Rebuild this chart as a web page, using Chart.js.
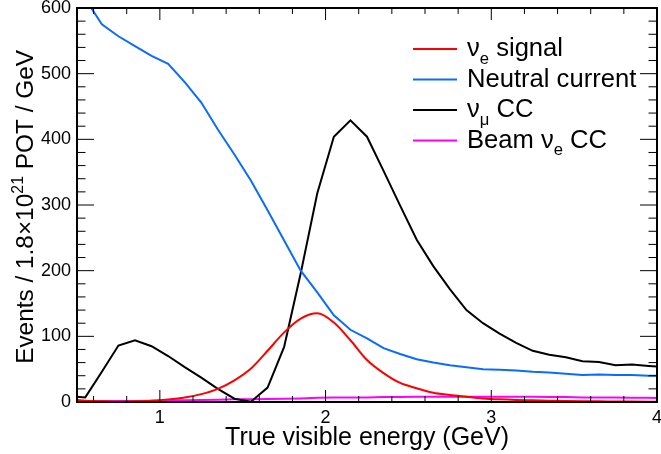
<!DOCTYPE html>
<html lang="en">
<head>
<meta charset="UTF-8">
<title>True visible energy</title>
<style>
    html, body { margin: 0; padding: 0; background: #fff; }
    #wrap { width: 661px; height: 454px; }
</style>
</head>
<body>
<div id="wrap"><canvas id="myChart" width="661" height="454"></canvas></div>

<script src="https://cdn.jsdelivr.net/npm/chart.js"></script>
<script>
// x positions (GeV) shared by all curves
const energy = [0.5, 0.55, 0.65, 0.75, 0.85, 0.95, 1.05, 1.15, 1.25, 1.35, 1.45, 1.55, 1.65, 1.75, 1.85, 1.95,
    2.05, 2.15, 2.25, 2.35, 2.45, 2.55, 2.65, 2.75, 2.85, 2.95, 3.05, 3.15, 3.25, 3.35, 3.45, 3.55, 3.65, 3.75,
    3.85, 3.95, 4.0];

const nueSignal = [3, 2, 1, 0.5, 1, 2, 4, 7, 12, 20, 33, 51, 78, 106, 127, 135,
    121, 94, 64, 44, 29, 21, 14, 10.6, 8, 5.5, 4, 3, 2.5, 2, 1.5, 1.2, 1, 0.8,
    0.6, 0.5, 0.5];

const neutralCurrent = [640, 614, 575, 557, 542, 527, 515, 487, 456, 415, 377, 337, 292, 246, 200, 167,
    132, 110, 97, 82, 73, 65, 60, 56, 53, 50, 49, 48, 46, 45, 43, 41, 42, 41,
    41, 40, 40];

const numuCC = [8, 7, 46, 86, 94, 85, 70, 53, 37, 20, 5, 0.5, 22, 84, 196, 318,
    404, 429, 404, 352, 299, 247, 207, 172, 140, 120, 104, 90, 78, 72, 68, 62, 61, 56,
    57, 55, 54];

const beamNue = [1.5, 1.5, 1.5, 1.5, 1.5, 2, 2, 2.5, 3, 3.5, 4, 4, 4.5, 5, 5.5, 6.5,
    7, 7, 7, 7.5, 7.5, 8, 8, 8, 8, 8, 8, 8, 8, 7.5, 7.5, 7, 7, 7,
    6.5, 6.5, 6];

const xTickLabels = [1, 2, 3, 4];
const yTickLabels = [0, 100, 200, 300, 400, 500, 600];

const FONT = '"Liberation Sans", Arial, Helvetica, sans-serif';

function pts(ys) {
    return energy.map((x, i) => ({ x: x, y: ys[i] }));
}

// tiny markup: _{sub} and ^{sup}
function parseRich(str) {
    const parts = [];
    const re = /([_^])\{([^}]*)\}/g;
    let last = 0, m;
    while ((m = re.exec(str))) {
        if (m.index > last) parts.push({ t: str.slice(last, m.index), k: '' });
        parts.push({ t: m[2], k: m[1] });
        last = re.lastIndex;
    }
    if (last < str.length) parts.push({ t: str.slice(last), k: '' });
    return parts;
}

function drawRich(ctx, str, x, y, size, align) {
    const parts = parseRich(str);
    let w = 0;
    parts.forEach(p => {
        p.s = p.k ? size * 0.65 : size;
        ctx.font = p.s + 'px ' + FONT;
        p.w = ctx.measureText(p.t).width;
        w += p.w;
    });
    let cx = align === 'right' ? x - w : x;
    ctx.textAlign = 'left';
    ctx.textBaseline = 'alphabetic';
    parts.forEach(p => {
        ctx.font = p.s + 'px ' + FONT;
        const dy = p.k === '_' ? size * 0.3 : (p.k === '^' ? -size * 0.4 : 0);
        ctx.fillText(p.t, cx, y + dy);
        cx += p.w;
    });
}

// ROOT-like frame: box, inward ticks on all sides, titles and legend
const rootFrame = {
    id: 'rootFrame',
    afterDatasetsDraw(chart) {
        const ctx = chart.ctx;
        const a = chart.chartArea;
        const xs = chart.scales.x, ys = chart.scales.y;
        ctx.save();
        ctx.strokeStyle = '#000';
        ctx.lineWidth = 1;
        ctx.beginPath();
        for (let v = 0; v <= 600; v += 20) {
            const py = ys.getPixelForValue(v);
            const len = v % 100 === 0 ? 17 : 8.5;
            ctx.moveTo(a.left, py); ctx.lineTo(a.left + len, py);
            ctx.moveTo(a.right, py); ctx.lineTo(a.right - len, py);
        }
        for (let k = 3; k <= 20; k++) {
            const px = xs.getPixelForValue(k * 0.2);
            const len = k % 5 === 0 ? 12 : 6;
            ctx.moveTo(px, a.bottom); ctx.lineTo(px, a.bottom - len);
            ctx.moveTo(px, a.top); ctx.lineTo(px, a.top + len);
        }
        ctx.stroke();
        ctx.lineWidth = 2;
        ctx.strokeRect(a.left, a.top, a.right - a.left, a.bottom - a.top);
        ctx.restore();
    },
    afterDraw(chart) {
        const ctx = chart.ctx;
        ctx.save();
        ctx.fillStyle = '#000';

        // x title
        drawRich(ctx, 'True visible energy (GeV)', 509, 445, 25, 'right');

        // y title
        ctx.save();
        ctx.translate(33, 50);
        ctx.rotate(-Math.PI / 2);
        drawRich(ctx, 'Events / 1.8\u00d710^{21} POT / GeV', 0, 0, 24.4, 'right');
        ctx.restore();

        // legend
        chart.data.datasets.forEach((ds, i) => {
            const ly = 49 + i * 30.5;
            ctx.strokeStyle = ds.borderColor;
            ctx.lineWidth = 2;
            ctx.beginPath();
            ctx.moveTo(413, ly);
            ctx.lineTo(457, ly);
            ctx.stroke();
            ctx.fillStyle = '#000';
            drawRich(ctx, ds.label, 467, ly + 7, 25.6, 'left');
        });
        ctx.restore();
    }
};

const ctx = document.getElementById('myChart').getContext('2d');

new Chart(ctx, {
    type: 'line',
    data: {
        datasets: [
            { label: '\u03bd_{e} signal', data: pts(nueSignal), borderColor: '#ff0000', cubicInterpolationMode: 'monotone' },
            { label: 'Neutral current', data: pts(neutralCurrent), borderColor: '#0a6cff' },
            { label: '\u03bd_{\u03bc} CC', data: pts(numuCC), borderColor: '#000000' },
            { label: 'Beam \u03bd_{e} CC', data: pts(beamNue), borderColor: '#ff00ff' }
        ]
    },
    options: {
        responsive: false,
        animation: false,
        devicePixelRatio: 1,
        datasets: {
            line: { borderWidth: 2, pointRadius: 0, fill: false, tension: 0 }
        },
        layout: { padding: { top: 8, right: 4, left: 0, bottom: 0 } },
        plugins: {
            legend: { display: false },
            tooltip: { enabled: false }
        },
        scales: {
            x: {
                type: 'linear',
                min: 0.5,
                max: 4,
                grid: { display: false, drawTicks: false },
                border: { display: false },
                ticks: {
                    autoSkip: false,
                    maxRotation: 0,
                    padding: 5,
                    color: '#000',
                    font: { family: FONT, size: 18 },
                    callback: v => String(v)
                },
                afterBuildTicks: s => { s.ticks = xTickLabels.map(v => ({ value: v })); },
                afterFit: s => { s.height = 52; s.paddingLeft = 0; s.paddingRight = 0; }
            },
            y: {
                min: 0,
                max: 600,
                grid: { display: false, drawTicks: false },
                border: { display: false },
                ticks: {
                    autoSkip: false,
                    padding: 6,
                    color: '#000',
                    font: { family: FONT, size: 18 },
                    callback: v => String(v)
                },
                afterBuildTicks: s => { s.ticks = yTickLabels.map(v => ({ value: v })); },
                afterFit: s => { s.width = 77; s.paddingTop = 0; s.paddingBottom = 0; }
            }
        }
    },
    plugins: [rootFrame]
});
</script>
</body>
</html>
